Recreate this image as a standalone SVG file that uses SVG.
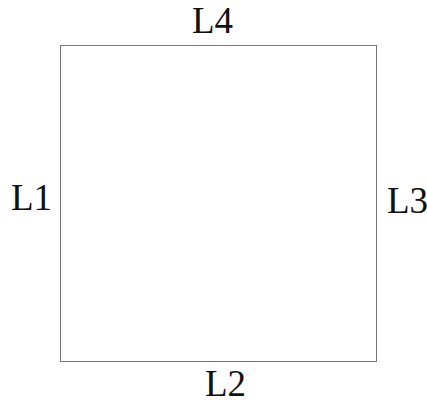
<svg xmlns="http://www.w3.org/2000/svg" width="427" height="405" viewBox="0 0 427 405">
<style>
.lbl{font-family:"Liberation Serif","Times New Roman",serif;font-size:37px;fill:#111}
.edge{fill:none;stroke:#777;stroke-width:1}
</style>
<rect width="427" height="405" fill="#fff"/>
<g id="connectors">
<rect class="edge" x="60.5" y="45.5" width="316" height="316"/>
</g>
<g id="L4"><text class="lbl" x="192" y="33">L4</text></g>
<g id="L1"><text class="lbl" x="11" y="210">L1</text></g>
<g id="L3"><text class="lbl" x="387" y="213">L3</text></g>
<g id="L2"><text class="lbl" x="205" y="396">L2</text></g>
</svg>
